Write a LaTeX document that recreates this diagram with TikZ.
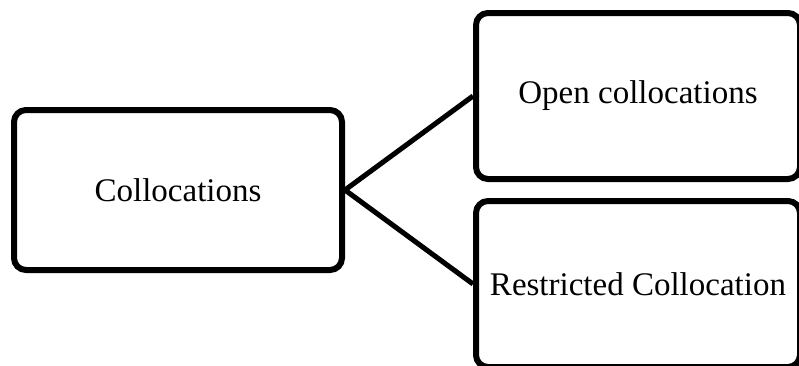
\documentclass[tikz,border=0pt]{standalone}
\usepackage{fontspec}
\setmainfont{Liberation Serif}
\begin{document}
\begin{tikzpicture}[x=0.75pt,y=-0.75pt,
  box/.style={draw=black, line width=4.5pt, rounded corners=9pt, fill=white,
    inner sep=0pt, font=\fontsize{24.75}{30}\selectfont},
  link/.style={draw=black, line width=3.8pt}]
  \useasboundingbox (0,0) rectangle (799,365);
  \fill[white] (0,0) rectangle (799,365);
  \begin{scope}
    \clip (0,0) rectangle (799,365);
    \node[box, minimum width=328*0.75pt, minimum height=160*0.75pt] (root) at (178,190) {Collocations};
    \node[box, minimum width=324*0.75pt, minimum height=166*0.75pt] (open) at (638,96) {Open collocations};
    \node[box, minimum width=324*0.75pt, minimum height=166*0.75pt] (restr) at (638,284) {Restricted Collocation};
    \draw[link] (root.east) -- (open.west);
    \draw[link] (root.east) -- (restr.west);
  \end{scope}
\end{tikzpicture}
\end{document}
